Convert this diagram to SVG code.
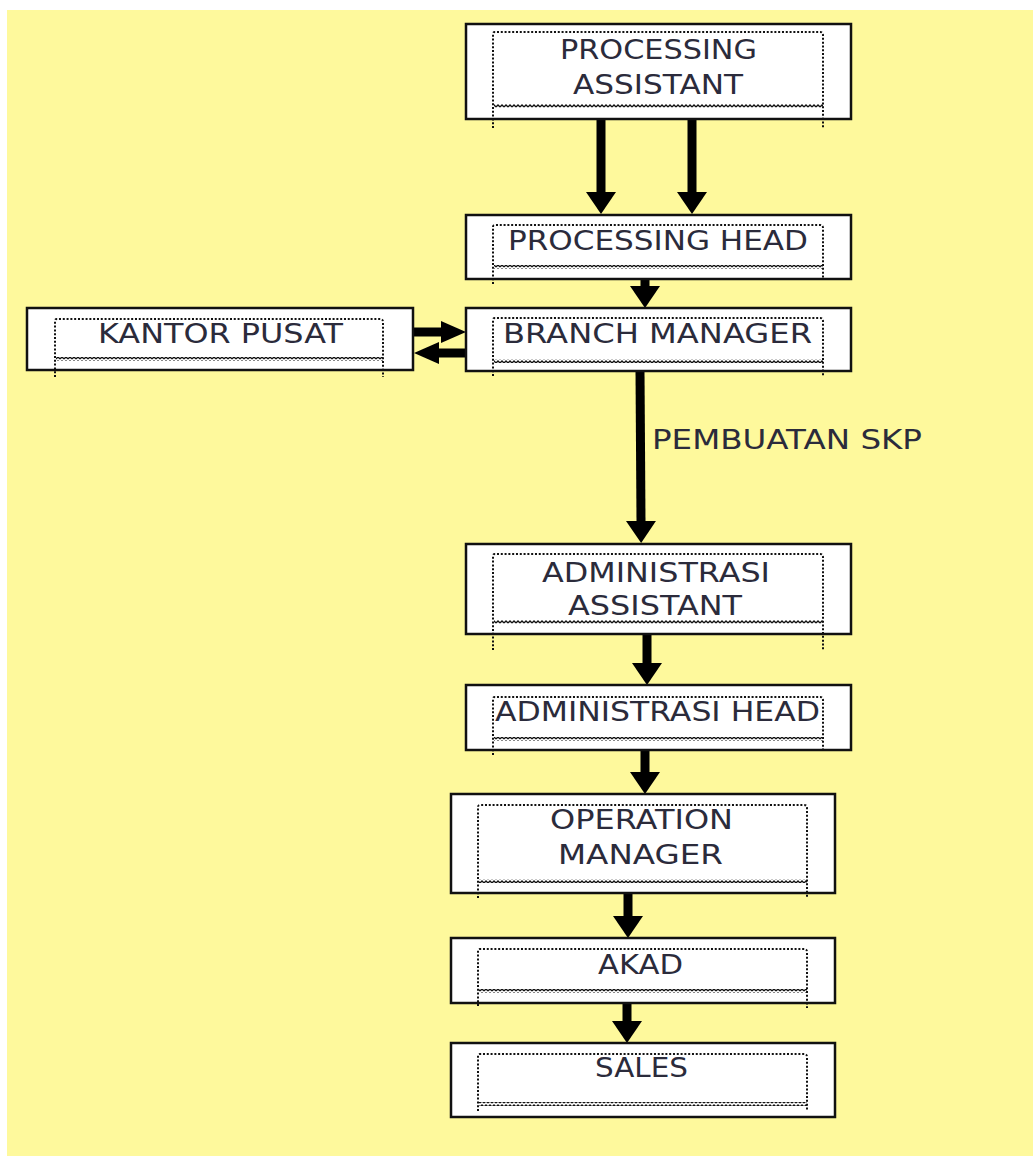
<svg xmlns="http://www.w3.org/2000/svg" width="1033" height="1156" viewBox="0 0 1033 1156">
<style>
.box{fill:#fff;stroke:#111;stroke-width:2.5}
.dot{fill:none;stroke:#111;stroke-width:2;stroke-dasharray:2 1.8}
.t{font-family:"DejaVu Sans",Verdana,sans-serif;font-size:26px;fill:#2b2b3b}
.sh{stroke:#000;stroke-width:9;fill:none}
</style>
<defs>
<pattern id="wave" width="4" height="4" patternUnits="userSpaceOnUse">
<path d="M0 3 L2 1 L4 3" stroke="#111" stroke-width="1.3" fill="none"/>
</pattern>
<marker id="ah" markerUnits="userSpaceOnUse" markerWidth="22" markerHeight="30" viewBox="0 0 22 30" refX="0" refY="15" orient="auto">
<path d="M0 0 L22 15 L0 30 Z" fill="#000"/>
</marker>
<marker id="ahs" markerUnits="userSpaceOnUse" markerWidth="25" markerHeight="22" viewBox="0 0 25 22" refX="0" refY="11" orient="auto">
<path d="M0 0 L25 11 L0 22 Z" fill="#000"/>
</marker>
</defs>
<rect x="7" y="10" width="1026" height="1146" fill="#fef99c"/>

<g id="connectors">
<line class="sh" x1="601" y1="119" x2="601" y2="192" marker-end="url(#ah)"/>
<line class="sh" x1="692" y1="119" x2="692" y2="192" marker-end="url(#ah)"/>
<line class="sh" x1="645" y1="279" x2="645" y2="286" marker-end="url(#ah)"/>
<line class="sh" x1="413" y1="332" x2="441" y2="332" marker-end="url(#ahs)"/>
<line class="sh" x1="465" y1="353" x2="439" y2="353" marker-end="url(#ahs)"/>
<line class="sh" x1="640" y1="371" x2="641" y2="521" marker-end="url(#ah)"/>
<line class="sh" x1="647" y1="634" x2="647" y2="663" marker-end="url(#ah)"/>
<line class="sh" x1="645" y1="750" x2="645" y2="772" marker-end="url(#ah)"/>
<line class="sh" x1="628" y1="893" x2="628" y2="916" marker-end="url(#ah)"/>
<line class="sh" x1="627" y1="1003" x2="627" y2="1021" marker-end="url(#ah)"/>
<text class="t" x="652" y="449" textLength="270" lengthAdjust="spacingAndGlyphs">PEMBUATAN SKP</text>
</g>

<g id="n-processing-assistant">
<rect class="box" x="466" y="24" width="385" height="95"/>
<path class="dot" d="M493 128 V34 Q493 32 495 32 H820 Q823 32 823 35 V128"/>
<rect x="494" y="104" width="329" height="4" fill="url(#wave)"/>
<text class="t" x="560" y="59" textLength="197" lengthAdjust="spacingAndGlyphs">PROCESSING</text>
<text class="t" x="573" y="94" textLength="170" lengthAdjust="spacingAndGlyphs">ASSISTANT</text>
</g>

<g id="n-processing-head">
<rect class="box" x="466" y="215" width="385" height="64"/>
<path class="dot" d="M493 284 V227 Q493 225 495 225 H820 Q823 225 823 228 V280"/>
<rect x="494" y="265" width="329" height="4" fill="url(#wave)"/>
<text class="t" x="508" y="250" textLength="300" lengthAdjust="spacingAndGlyphs">PROCESSING HEAD</text>
</g>

<g id="n-branch-manager">
<rect class="box" x="466" y="308" width="385" height="63"/>
<path class="dot" d="M493 376 V320 Q493 318 495 318 H820 Q823 318 823 321 V376"/>
<rect x="494" y="359" width="329" height="4" fill="url(#wave)"/>
<text class="t" x="503" y="343" textLength="309" lengthAdjust="spacingAndGlyphs">BRANCH MANAGER</text>
</g>

<g id="n-kantor-pusat">
<rect class="box" x="27" y="308" width="386" height="62"/>
<path class="dot" d="M55 377 V321 Q55 319 57 319 H380 Q383 319 383 322 V377"/>
<rect x="56" y="357" width="327" height="4" fill="url(#wave)"/>
<text class="t" x="98" y="343" textLength="245" lengthAdjust="spacingAndGlyphs">KANTOR PUSAT</text>
</g>

<g id="n-administrasi-assistant">
<rect class="box" x="466" y="544" width="385" height="90"/>
<path class="dot" d="M493 650 V556 Q493 554 495 554 H820 Q823 554 823 557 V650"/>
<rect x="494" y="620" width="329" height="4" fill="url(#wave)"/>
<text class="t" x="542" y="582" textLength="228" lengthAdjust="spacingAndGlyphs">ADMINISTRASI</text>
<text class="t" x="568" y="615" textLength="174" lengthAdjust="spacingAndGlyphs">ASSISTANT</text>
</g>

<g id="n-administrasi-head">
<rect class="box" x="466" y="685" width="385" height="65"/>
<path class="dot" d="M493 755 V699 Q493 697 495 697 H820 Q823 697 823 700 V751"/>
<rect x="494" y="737" width="329" height="4" fill="url(#wave)"/>
<text class="t" x="495" y="721" textLength="325" lengthAdjust="spacingAndGlyphs">ADMINISTRASI HEAD</text>
</g>

<g id="n-operation-manager">
<rect class="box" x="451" y="794" width="384" height="99"/>
<path class="dot" d="M478 898 V807 Q478 805 480 805 H804 Q807 805 807 808 V897"/>
<rect x="479" y="879" width="328" height="4" fill="url(#wave)"/>
<text class="t" x="550" y="829" textLength="183" lengthAdjust="spacingAndGlyphs">OPERATION</text>
<text class="t" x="558" y="864" textLength="165" lengthAdjust="spacingAndGlyphs">MANAGER</text>
</g>

<g id="n-akad">
<rect class="box" x="451" y="938" width="384" height="65"/>
<path class="dot" d="M478 1006 V951 Q478 949 480 949 H804 Q807 949 807 952 V1008"/>
<rect x="479" y="989" width="328" height="4" fill="url(#wave)"/>
<text class="t" x="598" y="974" textLength="85" lengthAdjust="spacingAndGlyphs">AKAD</text>
</g>

<g id="n-sales">
<rect class="box" x="451" y="1043" width="384" height="74"/>
<path class="dot" d="M478 1111 V1056 Q478 1054 480 1054 H804 Q807 1054 807 1057 V1110"/>
<rect x="479" y="1102" width="328" height="4" fill="url(#wave)"/>
<text class="t" x="595" y="1077" textLength="93" lengthAdjust="spacingAndGlyphs">SALES</text>
</g>
</svg>
